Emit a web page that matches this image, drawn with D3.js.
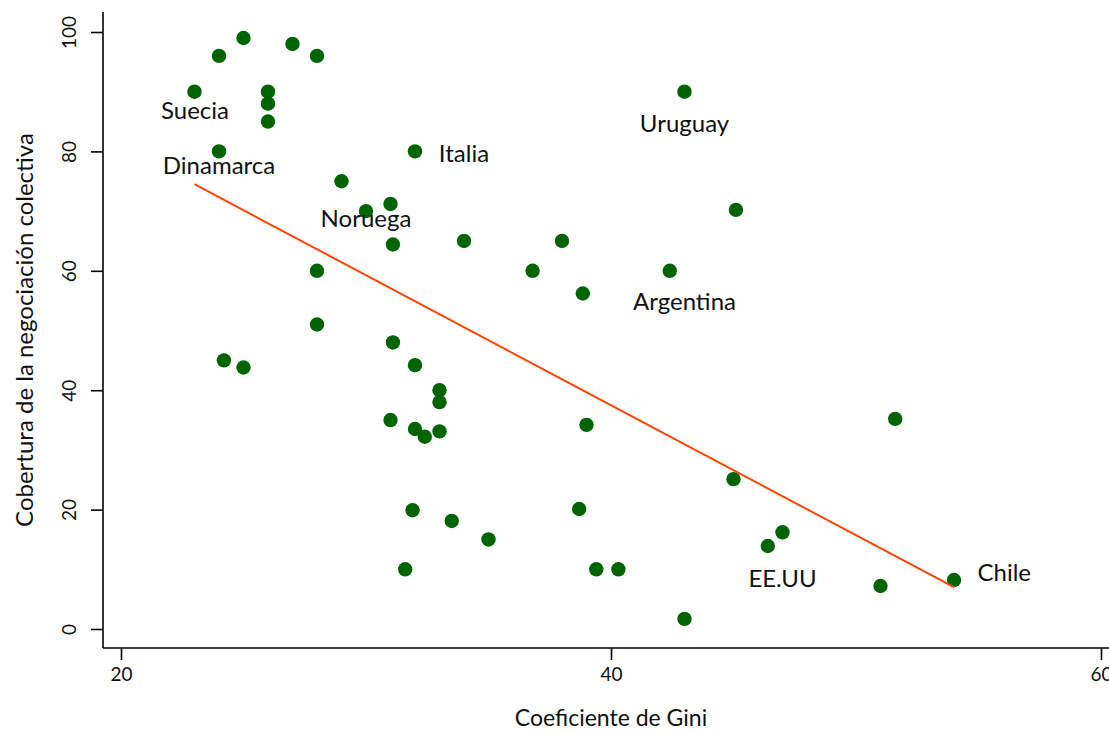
<!DOCTYPE html>
<html><head><meta charset="utf-8">
<script src="https://cdn.jsdelivr.net/npm/d3@7"></script>
<style>body{margin:0;background:#fff}svg{display:block}text{font-family:Lato,"Open Sans",sans-serif;fill:#111}</style>
</head><body><svg id="c" width="1109" height="732"></svg>
<script>
const gini = [23,24,25,27,28,26,26,26,24,32,43,29,30,31,31.1,34,38,36.8,42.4,38.85,28,28,24.2,25,31.1,32,33,33,31,32,32.4,33,31.9,33.5,35,31.6,39,38.7,39.4,40.3,43,45,45.1,46.4,47,51,51.6,54];
const coverage = [90,96,99,98,96,90,88,85,80,80,90,75,70,71.2,64.4,65,65,60,60,56.2,60,51,45,43.8,48,44.2,40,38,35,33.5,32.2,33.1,19.9,18.1,15,10,34.2,20.1,10,10,1.7,25.1,70.2,13.9,16.2,7.2,35.2,8.2];
const labelNames = ["Suecia","Dinamarca","Italia","Uruguay","Noruega","Argentina","EE.UU","Chile"];
const labelX = [23.02,24.0,34.0,43.0,30.0,43.0,47.0,56.05];
const labelY = [86.8,77.7,79.7,84.6,68.8,54.8,8.5,9.5];
const fitX = [23,54];
const fitY = [74.5,7.0];
const xTicks = [20,40,60];
const yTicks = [0,20,40,60,80,100];

const svg = d3.select("#c");
const x = d3.scaleLinear().domain([20,60]).range([121,1101]);
const y = d3.scaleLinear().domain([0,100]).range([629,32]);

// axes
const yAxis = svg.append("g").attr("transform","translate(103,0)")
  .call(d3.axisLeft(y).tickValues(yTicks).tickSize(12).tickSizeOuter(0));
yAxis.select(".domain").attr("d","M0,12V648").attr("stroke","#000").attr("stroke-width",1.6);
yAxis.selectAll(".tick line").attr("stroke","#000").attr("stroke-width",1.6);
yAxis.selectAll(".tick text").attr("font-size",19).attr("font-family","Lato,sans-serif")
  .attr("x",null).attr("text-anchor","middle")
  .attr("transform","translate(-34,0) rotate(-90)").attr("dy","0.35em");

const xAxis = svg.append("g").attr("transform","translate(0,648)")
  .call(d3.axisBottom(x).tickValues(xTicks).tickSize(12).tickSizeOuter(0).tickPadding(8));
xAxis.select(".domain").attr("d","M103,0H1109").attr("stroke","#000").attr("stroke-width",1.6);
xAxis.selectAll(".tick line").attr("stroke","#000").attr("stroke-width",1.6);
xAxis.selectAll(".tick text").attr("font-size",19).attr("font-family","Lato,sans-serif");

// axis titles
svg.append("text").attr("x",611).attr("y",726).attr("text-anchor","middle").attr("font-size",23).text("Coeficiente de Gini");
svg.append("text").attr("transform","translate(25,330) rotate(-90)").attr("dy","0.35em").attr("text-anchor","middle").attr("font-size",24).text("Cobertura de la negociación colectiva");

// points
svg.append("g").selectAll("circle").data(gini.map((g,i)=>[g,coverage[i]])).join("circle")
  .attr("cx",d=>x(d[0])).attr("cy",d=>y(d[1])).attr("r",7.2).attr("fill","#006400");

// fit line
svg.append("path").datum(fitX.map((v,i)=>[v,fitY[i]]))
  .attr("d",d3.line().x(d=>x(d[0])).y(d=>y(d[1])))
  .attr("stroke","#FF4500").attr("stroke-width",2).attr("fill","none");

// labels
svg.append("g").selectAll("text").data(labelNames).join("text")
  .attr("x",(d,i)=>x(labelX[i])).attr("y",(d,i)=>y(labelY[i])).attr("dy","0.35em")
  .attr("text-anchor","middle").attr("font-size",24).text(d=>d);
</script></body></html>
